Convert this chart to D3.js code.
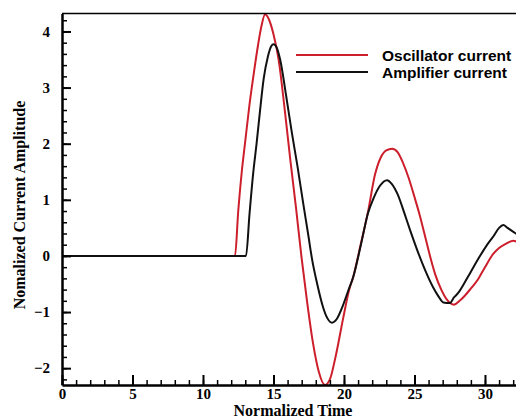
<!DOCTYPE html>
<html>
<head>
<meta charset="utf-8">
<script src="https://cdn.jsdelivr.net/npm/d3@7"></script>
<style>
  body { margin: 0; background: #fff; }
  svg { display: block; }
</style>
</head>
<body>
<div id="chart"></div>
<script>
"use strict";

// Normalized time / amplitude pairs
var oscTime = [0, 12.27, 12.5, 12.75, 13.0, 13.3, 13.6, 13.9, 14.15, 14.4, 14.7, 15.0, 15.37, 15.8, 16.2, 16.6, 17.0, 17.4, 17.8, 18.2, 18.65, 19.0, 19.4, 19.95, 20.35, 20.66, 21.2, 21.7, 22.2, 22.6, 23.0, 23.42, 23.8, 24.2, 24.6, 25.0, 25.4, 25.8, 26.1, 26.5, 26.9, 27.3, 27.8, 28.2, 28.6, 29.0, 29.5, 30.0, 30.6, 31.0, 31.5, 32.0, 32.3];
var oscValue = [0, 0, 0.8, 1.5, 2.05, 2.7, 3.25, 3.75, 4.1, 4.3, 4.2, 3.95, 3.49, 2.6, 1.7, 0.85, -0.05, -0.85, -1.55, -2.05, -2.3, -2.2, -1.8, -1.1, -0.62, -0.37, 0.22, 0.78, 1.45, 1.75, 1.88, 1.91, 1.85, 1.65, 1.38, 1.05, 0.7, 0.3, 0.0, -0.35, -0.6, -0.78, -0.87, -0.8, -0.7, -0.58, -0.42, -0.2, 0.04, 0.14, 0.22, 0.27, 0.25];

var ampTime = [0, 13.05, 13.3, 13.55, 13.8, 14.05, 14.3, 14.6, 14.85, 15.0, 15.25, 15.48, 15.9, 16.3, 16.7, 17.1, 17.45, 17.75, 18.1, 18.5, 18.8, 19.15, 19.5, 19.9, 20.3, 20.66, 21.2, 21.7, 22.1, 22.55, 23.05, 23.4, 23.8, 24.3, 24.7, 25.2, 25.8, 26.3, 26.7, 27.05, 27.5, 27.8, 28.1, 28.5, 29.0, 29.6, 30.1, 30.6, 31.0, 31.3, 31.6, 32.3];
var ampValue = [0, 0, 0.75, 1.45, 2.0, 2.6, 3.15, 3.55, 3.74, 3.77, 3.7, 3.49, 2.85, 2.2, 1.6, 0.95, 0.4, -0.08, -0.5, -0.9, -1.1, -1.19, -1.12, -0.9, -0.62, -0.37, 0.2, 0.76, 1.03, 1.25, 1.35, 1.28, 1.1, 0.75, 0.45, 0.1, -0.28, -0.55, -0.72, -0.83, -0.84, -0.74, -0.66, -0.5, -0.28, -0.02, 0.18, 0.35, 0.5, 0.55, 0.5, 0.38];

var xTicks = [0, 5, 10, 15, 20, 25, 30];
var yTicks = [-2, -1, 0, 1, 2, 3, 4];
var seriesNames = ["Oscillator current", "Amplifier current"];
var seriesColors = ["#cc1f2b", "#111111"];

var W = 516, H = 417;
var plotLeft = 62, plotRight = 516, plotTop = 13.5, plotBottom = 385;
var serif = "'Liberation Serif', 'Times New Roman', serif";

var x = d3.scaleLinear().domain([0, 32.2]).range([plotLeft, plotRight]);
var y = d3.scaleLinear().domain([-2.3, 4.32]).range([plotBottom, plotTop]);

var svg = d3.select("#chart").append("svg")
    .attr("width", W)
    .attr("height", H);

svg.append("defs").append("clipPath")
    .attr("id", "plot")
    .append("rect")
    .attr("x", plotLeft).attr("y", plotTop - 1)
    .attr("width", plotRight - plotLeft).attr("height", plotBottom - plotTop + 3);

var series = [
    oscTime.map((t, i) => [t, oscValue[i]]),
    ampTime.map((t, i) => [t, ampValue[i]])
];

var line = d3.line()
    .x(d => x(d[0]))
    .y(d => y(d[1]))
    .curve(d3.curveMonotoneX);

svg.append("g")
    .attr("clip-path", "url(#plot)")
    .selectAll("path")
    .data(series)
    .enter()
    .append("path")
    .attr("d", line)
    .attr("fill", "none")
    .attr("stroke", (d, i) => seriesColors[i])
    .attr("stroke-width", 2);

// top border
svg.append("line")
    .attr("x1", plotLeft).attr("x2", plotRight)
    .attr("y1", plotTop).attr("y2", plotTop)
    .attr("stroke", "#000").attr("stroke-width", 1.6);

// minor ticks
svg.append("g")
    .attr("transform", "translate(" + plotLeft + ",0)")
    .call(d3.axisLeft(y).tickValues(d3.range(-22, 44, 2).map(v => v / 10)).tickSize(-5).tickFormat(""))
    .call(g => g.select(".domain").remove())
    .selectAll("line").attr("stroke-width", 1.5);

svg.append("g")
    .attr("transform", "translate(0," + plotBottom + ")")
    .call(d3.axisBottom(x).tickValues(d3.range(0, 33, 1)).tickSize(-5).tickFormat(""))
    .call(g => g.select(".domain").remove())
    .selectAll("line").attr("stroke-width", 1.5);

// major axes
var yAxis = svg.append("g")
    .attr("transform", "translate(" + plotLeft + ",0)")
    .call(d3.axisLeft(y).tickValues(yTicks).tickSize(-9).tickPadding(12).tickSizeOuter(0).tickFormat(d3.format("d")));
yAxis.select(".domain").attr("stroke-width", 2.5);
yAxis.selectAll(".tick line").attr("stroke-width", 2);

var xAxis = svg.append("g")
    .attr("transform", "translate(0," + plotBottom + ")")
    .call(d3.axisBottom(x).tickValues(xTicks).tickSize(-10).tickPadding(3).tickSizeOuter(0));
xAxis.select(".domain").attr("stroke-width", 2.5);
xAxis.selectAll(".tick line").attr("stroke-width", 2);

svg.selectAll(".tick text")
    .attr("font-family", serif)
    .attr("font-weight", "bold")
    .attr("font-size", 15)
    .attr("fill", "#000");

// axis titles
svg.append("text")
    .attr("x", 293).attr("y", 416)
    .attr("text-anchor", "middle")
    .attr("font-family", serif)
    .attr("font-weight", "bold")
    .attr("font-size", 16)
    .text("Normalized Time");

svg.append("text")
    .attr("transform", "translate(25,205) rotate(-90)")
    .attr("text-anchor", "middle")
    .attr("font-family", serif)
    .attr("font-weight", "bold")
    .attr("font-size", 16)
    .text("Nomalized Current Amplitude");

// legend
var legend = svg.append("g").selectAll("g")
    .data(seriesNames)
    .enter()
    .append("g")
    .attr("transform", (d, i) => "translate(296," + (55 + i * 17) + ")");

legend.append("line")
    .attr("x1", 0).attr("x2", 72)
    .attr("stroke", (d, i) => seriesColors[i])
    .attr("stroke-width", 2);

legend.append("text")
    .attr("x", 86).attr("y", 5.5)
    .attr("font-family", "'Liberation Sans', Arial, sans-serif")
    .attr("font-weight", "bold")
    .attr("font-size", 15.5)
    .text(d => d);
</script>
</body>
</html>
